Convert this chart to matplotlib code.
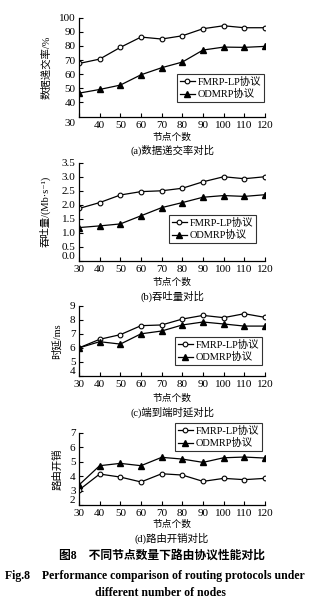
import numpy as np
import matplotlib
matplotlib.use('Agg')
import matplotlib.pyplot as plt

plt.rcParams['font.family'] = ['Liberation Serif', 'Noto Sans CJK SC', 'DejaVu Serif']
plt.rcParams['axes.unicode_minus'] = False

nodes = [30, 40, 50, 60, 70, 80, 90, 100, 110, 120]

# 数据递交率 (%)
pdr_fmrp = [67.6, 70.7, 79.0, 86.3, 84.9, 87.2, 92.2, 94.3, 92.9, 92.9]
pdr_odmrp = [46.6, 49.2, 52.3, 59.6, 64.6, 68.6, 77.1, 79.2, 79.0, 79.7]

# 吞吐量 (Mb/s)
thr_fmrp = [1.87, 2.08, 2.35, 2.47, 2.50, 2.59, 2.82, 3.00, 2.93, 3.00]
thr_odmrp = [1.19, 1.25, 1.32, 1.61, 1.90, 2.08, 2.27, 2.33, 2.30, 2.36]

# 端到端时延 (ms)
delay_fmrp = [6.0, 6.61, 6.94, 7.58, 7.63, 8.05, 8.31, 8.15, 8.43, 8.17]
delay_odmrp = [6.0, 6.44, 6.27, 7.0, 7.2, 7.63, 7.84, 7.7, 7.55, 7.55]

# 路由开销
ovh_fmrp = [3.04, 4.15, 3.94, 3.60, 4.17, 4.08, 3.64, 3.85, 3.76, 3.85]
ovh_odmrp = [3.39, 4.73, 4.89, 4.73, 5.31, 5.19, 4.96, 5.28, 5.33, 5.26]

labels = ['FMRP-LP协议', 'ODMRP协议']
xlabel = '节点个数'

W, H = 325, 605
fig = plt.figure(figsize=(W / 100, H / 100), dpi=100)


def box(l, t, r, b):
    return [l / W, 1 - b / H, (r - l) / W, (b - t) / H]


def panel(rect, y1, y2, ylim, yticks, ylabel, caption, cap_y, xl_y, leg_anchor, ylab_x, yfmt=None):
    ax = fig.add_axes(box(*rect))
    ax.plot(nodes, y1, '-o', color='black', lw=0.9, ms=3.4, mfc='white', mec='black', mew=0.8, label=labels[0])
    ax.plot(nodes, y2, '-^', color='black', lw=0.9, ms=3.8, mfc='black', mec='black', label=labels[1])
    ax.set_xlim(30, 120)
    ax.set_ylim(*ylim)
    ax.set_xticks(nodes)
    ax.set_yticks(yticks)
    if yfmt:
        ax.set_yticklabels([yfmt.format(v) for v in yticks])
    for s in ['top', 'right']:
        ax.spines[s].set_visible(False)
    for s in ['left', 'bottom']:
        ax.spines[s].set_linewidth(0.9)
    ax.tick_params(direction='in', length=3, width=0.8, labelsize=8)
    ax.tick_params(axis='x', pad=3.2)
    ax.tick_params(axis='y', pad=2.5)
    # lowest y label sits a touch above the axis so it clears the first x label
    ax.get_yticklabels()[0].set_va('bottom')
    ax.set_ylabel(ylabel, fontsize=7.5)
    ax.yaxis.set_label_coords(ylab_x, 0.5)
    fig.text(172 / W, 1 - xl_y / H, xlabel, ha='center', va='center', fontsize=7)
    fig.text(172 / W, 1 - cap_y / H, caption, ha='center', va='center', fontsize=7.5)
    leg = ax.legend(loc='upper left', bbox_to_anchor=leg_anchor, bbox_transform=fig.transFigure,
                    fontsize=7.5, frameon=True, fancybox=False, edgecolor='black',
                    handlelength=1.4, handletextpad=0.25, borderpad=0.3, labelspacing=0.2,
                    borderaxespad=0)
    leg.get_frame().set_linewidth(0.8)
    return ax


ax_a = panel((79, 17.7, 265, 116.6), pdr_fmrp, pdr_odmrp, (30, 100), range(40, 101, 10),
             '数据递交率/%', '(a)数据递交率对比', 150.5, 137.5,
             (177 / W, 1 - 74 / H), -0.15)
ax_a.get_yticklabels()[0].set_va('center_baseline')
ax_a.set_xticklabels([''] + [str(n) for n in nodes[1:]])
fig.text(70 / W, 1 - 124 / H, '30', ha='center', va='center', fontsize=8)

panel((79, 162.7, 265, 261), thr_fmrp, thr_odmrp, (0, 3.5), np.arange(0, 3.51, 0.5),
      '吞吐量/(Mb·s⁻¹)', '(b)吞吐量对比', 296, 282,
      (169 / W, 1 - 215 / H), -0.15, '{:.1f}')

panel((79, 305.7, 265, 376), delay_fmrp, delay_odmrp, (4, 9), range(4, 10),
      '时延/ms', '(c)端到端时延对比', 412, 398.5,
      (175 / W, 1 - 337 / H), -0.09)

panel((79, 433, 265, 505), ovh_fmrp, ovh_odmrp, (2, 7), range(2, 8),
      '路由开销', '(d)路由开销对比', 538, 524.5,
      (175 / W, 1 - 423 / H), -0.09)

fig.text(162 / W, 1 - 556 / H, '图8    不同节点数量下路由协议性能对比', ha='center', va='center',
         fontsize=8.5, fontweight='bold')
fig.text(155 / W, 1 - 575.5 / H, 'Fig.8    Performance comparison of routing protocols under',
         ha='center', va='center', fontsize=8.5, fontweight='bold')
fig.text(160 / W, 1 - 593 / H, 'different number of nodes', ha='center', va='center',
         fontsize=8.5, fontweight='bold')

fig.savefig('out.png', dpi=100)
